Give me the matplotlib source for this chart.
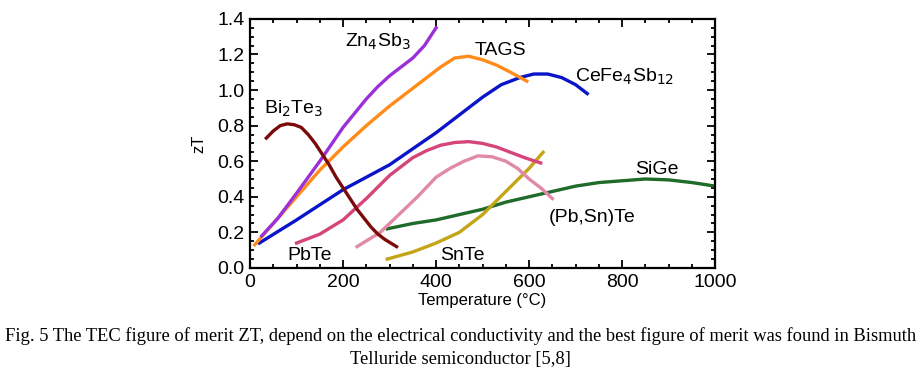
import matplotlib.pyplot as plt
from matplotlib.ticker import MultipleLocator

plt.rcParams['font.family'] = ['Liberation Sans', 'DejaVu Sans']

# temperature (C) and zT
zn_t = [25, 60, 100, 150, 200, 250, 275, 300, 325, 350, 375, 400]
zn_z = [0.18, 0.28, 0.42, 0.60, 0.79, 0.95, 1.02, 1.08, 1.13, 1.18, 1.25, 1.35]

tags_t = [10, 50, 100, 150, 200, 250, 300, 350, 380, 410, 440, 470, 500, 530, 560, 595]
tags_z = [0.13, 0.25, 0.40, 0.55, 0.68, 0.80, 0.91, 1.01, 1.07, 1.13, 1.18, 1.19, 1.17, 1.14, 1.10, 1.05]

ce_t = [20, 100, 200, 300, 400, 450, 500, 540, 580, 610, 640, 670, 700, 725]
ce_z = [0.14, 0.27, 0.44, 0.58, 0.76, 0.86, 0.96, 1.03, 1.07, 1.09, 1.09, 1.07, 1.03, 0.98]

bi_t = [35, 50, 65, 80, 95, 110, 125, 140, 155, 170, 185, 200, 215, 230, 245, 260, 275, 290, 315]
bi_z = [0.73, 0.77, 0.80, 0.81, 0.805, 0.79, 0.75, 0.70, 0.64, 0.58, 0.51, 0.45, 0.39, 0.33, 0.28, 0.23, 0.19, 0.16, 0.12]

pb_t = [100, 150, 200, 250, 300, 350, 380, 410, 440, 470, 500, 530, 560, 590, 625]
pb_z = [0.14, 0.19, 0.27, 0.39, 0.52, 0.62, 0.66, 0.69, 0.705, 0.71, 0.70, 0.68, 0.65, 0.62, 0.59]

pbsn_t = [230, 280, 320, 360, 400, 430, 460, 490, 520, 550, 575, 600, 625, 650]
pbsn_z = [0.12, 0.20, 0.30, 0.40, 0.51, 0.56, 0.60, 0.63, 0.625, 0.60, 0.56, 0.50, 0.45, 0.39]

sn_t = [295, 350, 400, 450, 500, 550, 600, 630]
sn_z = [0.05, 0.09, 0.14, 0.20, 0.30, 0.43, 0.56, 0.65]

sige_t = [295, 350, 400, 450, 500, 550, 600, 650, 700, 750, 800, 850, 900, 950, 1000]
sige_z = [0.22, 0.25, 0.27, 0.30, 0.33, 0.37, 0.40, 0.43, 0.46, 0.48, 0.49, 0.50, 0.495, 0.48, 0.46]

fig = plt.figure(figsize=(9.21, 3.85), dpi=100)
ax = fig.add_axes([0.2715, 0.304, 0.505, 0.647])

lw = 2.4
ax.plot(sige_t, sige_z, color='#1F6B2A', lw=lw)
ax.plot(sn_t, sn_z, color='#C4A516', lw=lw)
ax.plot(pbsn_t, pbsn_z, color='#E08AA6', lw=lw)
ax.plot(pb_t, pb_z, color='#D6457A', lw=lw)
ax.plot(ce_t, ce_z, color='#0A14C8', lw=lw)
ax.plot(tags_t, tags_z, color='#FF8C1A', lw=lw)
ax.plot(zn_t, zn_z, color='#9B30D9', lw=lw)
ax.plot(bi_t, bi_z, color='#7B0A0A', lw=lw)

fs = 14
ax.text(205, 1.245, 'Zn$_4$Sb$_3$', fontsize=fs)
ax.text(482, 1.195, 'TAGS', fontsize=fs)
ax.text(698, 1.045, 'CeFe$_4$Sb$_{12}$', fontsize=fs)
ax.text(30, 0.865, 'Bi$_2$Te$_3$', fontsize=fs)
ax.text(80, 0.045, 'PbTe', fontsize=fs)
ax.text(408, 0.045, 'SnTe', fontsize=fs)
ax.text(828, 0.53, 'SiGe', fontsize=fs)
ax.text(643, 0.26, '(Pb,Sn)Te', fontsize=fs)

ax.set_xlim(0, 1000)
ax.set_ylim(0, 1.4)
ax.xaxis.set_major_locator(MultipleLocator(200))
ax.xaxis.set_minor_locator(MultipleLocator(50))
ax.yaxis.set_major_locator(MultipleLocator(0.2))
ax.yaxis.set_minor_locator(MultipleLocator(0.05))
ax.yaxis.set_major_formatter(plt.FuncFormatter(lambda v, p: f'{v:.1f}'))
ax.tick_params(which='both', direction='in', top=True, right=True, labelsize=14, width=1.3)
ax.tick_params(which='major', length=6, pad=4)
ax.tick_params(which='minor', length=3)
for s in ax.spines.values():
    s.set_linewidth(1.6)

ax.set_xlabel('Temperature (°C)', fontsize=12, labelpad=2)
ax.set_ylabel('zT', fontsize=12, labelpad=8)

cap = ('Fig. 5 The TEC figure of merit ZT, depend on the electrical conductivity and the best figure of merit was found in Bismuth\n'
       'Telluride semiconductor [5,8]')
fig.text(0.5, 0.097, cap, ha='center', va='center', fontsize=13.3,
         family='Liberation Serif', linespacing=1.45)

fig.savefig('out.png', dpi=100)
